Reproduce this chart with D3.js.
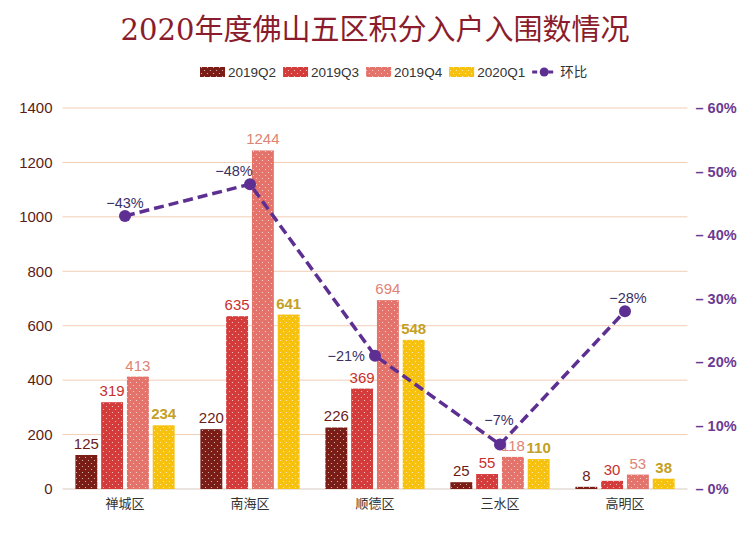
<!DOCTYPE html>
<html><head><meta charset="utf-8">
<script src="https://cdn.jsdelivr.net/npm/d3@7"></script>
<style>
html,body{margin:0;padding:0;background:#fff;}
svg{display:block;font-family:"Liberation Sans","Noto Sans CJK SC",Arial,sans-serif;}
</style></head>
<body>
<svg id="chart" width="750" height="544"></svg>
<script>
const categories = ["禅城区","南海区","顺德区","三水区","高明区"];
const seriesNames = ["2019Q2","2019Q3","2019Q4","2020Q1"];
const q2 = [125,220,226,25,8];
const q3 = [319,635,369,55,30];
const q4 = [413,1244,694,118,53];
const q1 = [234,641,548,110,38];
const ratio = [-43,-48,-21,-7,-28];
const ratioLabels = ["−43%","−48%","−21%","−7%","−28%"];
const leftTicks = [0,200,400,600,800,1000,1200,1400];
const rightTicks = [0,10,20,30,40,50,60];
const lineName = "环比";
const title = "2020年度佛山五区积分入户入围数情况";

const series = [q2,q3,q4,q1];
const barColors = ["#7a1d16","#d43c3b","#e3736b","#f6c20f"];
const labelColors = ["#6b1c17","#c8302c","#de8476","#c4a024"];
const lineColor = "#5e2f92";

const svg = d3.select("#chart");
const W = 750, H = 544;
const m = {l:62.5, r:62.5, t:108, b:55};
const x0 = d3.scaleBand().domain(categories).range([m.l, W-m.r]).paddingInner(0).paddingOuter(0);
const x1 = d3.scaleBand().domain(seriesNames).range([0, x0.bandwidth()]).paddingInner(0.15).paddingOuter(0.5);
const y = d3.scaleLinear().domain([0,1400]).range([489,108]);
const yR = d3.scaleLinear().domain([0,60]).range([489,108]);

// patterns
const defs = svg.append("defs");
barColors.forEach((c,i)=>{
  const p = defs.append("pattern").attr("id","pat"+i).attr("patternUnits","userSpaceOnUse")
    .attr("width",6).attr("height",6);
  p.append("rect").attr("width",6).attr("height",6).attr("fill",c);
  p.append("circle").attr("cx",1.5).attr("cy",1.5).attr("r",0.6).attr("fill","#fff").attr("opacity",0.75);
  p.append("circle").attr("cx",4.5).attr("cy",4.5).attr("r",0.6).attr("fill","#fff").attr("opacity",0.75);
});

// title
svg.append("text").attr("x",375).attr("y",40).attr("text-anchor","middle")
  .attr("font-family","'DejaVu Serif','Noto Sans CJK SC',serif")
  .attr("font-size",29).attr("fill","#8a1c2c").text(title);

// grid
const gridG = svg.append("g");
leftTicks.forEach(t=>{
  gridG.append("line").attr("x1",m.l).attr("x2",W-m.r).attr("y1",y(t)).attr("y2",y(t))
    .attr("stroke", t===0 ? "#d9c9c0" : "#f1cdb5").attr("stroke-width",1);
});

// left axis
const yAxis = d3.axisLeft(y).tickValues(leftTicks).tickSize(0).tickPadding(10).tickFormat(d3.format("d"));
const ga = svg.append("g").attr("transform",`translate(${m.l},0)`).call(yAxis);
ga.select(".domain").remove();
ga.selectAll("text").attr("font-size",15).attr("fill","#5a1c17").attr("font-family","'Liberation Sans',Arial,sans-serif");

// right axis
const yAxisR = d3.axisRight(yR).tickValues(rightTicks).tickSize(0).tickPadding(8).tickFormat(d=>"– "+d+"%");
const gr = svg.append("g").attr("transform",`translate(${W-m.r},0)`).call(yAxisR);
gr.select(".domain").remove();
gr.selectAll("text").attr("font-size",14.5).attr("font-weight","bold").attr("fill","#6a3b93").attr("font-family","'Liberation Sans',Arial,sans-serif");

// x axis
const xAxis = d3.axisBottom(x0).tickSize(0).tickPadding(10);
const gx = svg.append("g").attr("transform",`translate(0,${y(0)})`).call(xAxis);
gx.select(".domain").remove();
gx.selectAll("text").attr("font-size",13).attr("fill","#333").attr("font-family","'Noto Sans CJK SC',sans-serif");

// bars
series.forEach((vals,si)=>{
  const g = svg.append("g");
  g.selectAll("rect").data(vals).join("rect")
    .attr("x",(d,i)=>x0(categories[i])+x1(seriesNames[si]))
    .attr("y",d=>y(d)).attr("width",x1.bandwidth()).attr("height",d=>y(0)-y(d))
    .attr("fill",`url(#pat${si})`);
  g.selectAll("text").data(vals).join("text")
    .attr("x",(d,i)=>x0(categories[i])+x1(seriesNames[si])+x1.bandwidth()/2)
    .attr("y",d=>y(d)-6).attr("text-anchor","middle")
    .attr("font-size",15).attr("font-weight", si===3 ? "bold":"normal")
    .attr("fill",labelColors[si]).text(d=>d);
});

// line
const pts = ratio.map((v,i)=>[x0(categories[i])+x0.bandwidth()/2, yR(Math.abs(v))]);
svg.append("path").attr("d",d3.line()(pts)).attr("fill","none").attr("stroke",lineColor)
  .attr("stroke-width",3.5).attr("stroke-dasharray","10,5");
svg.selectAll("circle.pt").data(pts).join("circle").attr("class","pt")
  .attr("cx",d=>d[0]).attr("cy",d=>d[1]).attr("r",6).attr("fill",lineColor);
const lblDx = [0,-16,-10,-1,3];
const lblDy = [-8,-8,5,-20,-8];
const lblAnchor = ["middle","middle","end","middle","middle"];
svg.selectAll("text.rl").data(pts).join("text").attr("class","rl")
  .attr("x",(d,i)=>d[0]+lblDx[i]).attr("y",(d,i)=>d[1]+lblDy[i]).attr("text-anchor",(d,i)=>lblAnchor[i])
  .attr("font-size",14.5).attr("fill","#3a2f66").text((d,i)=>ratioLabels[i]);

// legend
const lg = svg.append("g").attr("transform","translate(200,72)");
let lx = 0;
seriesNames.forEach((n,i)=>{
  lg.append("rect").attr("x",lx).attr("y",-5).attr("width",25).attr("height",10).attr("fill",`url(#pat${i})`);
  const t = lg.append("text").attr("x",lx+28).attr("y",5).attr("font-size",13.5).attr("fill","#333").text(n);
  lx += 28 + t.node().getComputedTextLength() + 7;
});
lg.append("line").attr("x1",lx).attr("x2",lx+24).attr("y1",0).attr("y2",0).attr("stroke",lineColor)
  .attr("stroke-width",3).attr("stroke-dasharray","5,3");
lg.append("circle").attr("cx",lx+12).attr("cy",0).attr("r",4.5).attr("fill",lineColor);
lg.append("text").attr("x",lx+28).attr("y",5).attr("font-size",13.5).attr("fill","#333")
  .attr("font-family","'Noto Sans CJK SC',sans-serif").text(lineName);
</script>
</body></html>
